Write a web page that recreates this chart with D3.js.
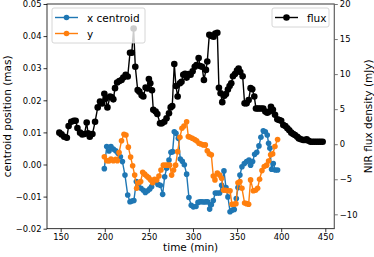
<!DOCTYPE html>
<html>
<head>
<meta charset="utf-8">
<script src="https://cdn.jsdelivr.net/npm/d3@7"></script>
<style>
  body { margin: 0; background: #fff; }
  text { font-family: "DejaVu Sans", sans-serif; fill: #000; }
</style>
</head>
<body>
<div id="chart"></div>
<script>
// flux (right axis) time and value
var fluxTime = [148.5,151,154,157,159,162,165,167,169,172,174.5,177,179.5,181,183,186,189,192,194.6,197,199.5,201,203,206,208,209.7,211.6,214,216.5,219,221,223.7,226,228.6,230.6,232.7,234.6,237.3,239.2,241.8,243.7,246.3,248.5,250,251.6,253.5,255,257.7,259.6,262.6,264.8,267.5,270,272.8,274.7,276.5,278.8,280.7,282.6,285.2,287,289,291,292.8,295,297.3,299.6,302,304,306.4,308,310.3,312.4,314.7,316.2,318.5,321,323.4,325.3,327.6,329.4,331.3,333.2,335.5,337.4,339.6,341.5,343.4,345.3,347.6,349.9,351.7,353.6,356.3,358.5,360.8,363.1,365.3,367.2,369.5,371.4,373.3,375.2,377.5,379.7,382,384.2,386.5,388.4,390.6,393,395.6,397.8,400,402.4,404.7,407,409.2,411.4,413.6,415.6,418.2,420,422.4,425,427,428.9,431,433.3,435.6,437.8,440.1,442.4,444.6,447];
var fluxVal = [1.65,1.4,1.07,0.93,2.6,3.2,3.35,3.35,2.3,1.65,1.4,1.45,3.1,1.55,1.07,1.45,3.2,5.25,6.1,5.8,7.2,6.5,5.25,6.8,6.7,6.4,8.0,8.8,9.0,9.15,9.5,9.9,9.65,13.05,13.05,16.5,11.06,7.73,7.5,7.0,6.8,8.1,7.95,9.3,8.7,7.7,4.9,4.65,4.3,2.98,2.98,3.2,3.7,4.4,5.25,5.45,11.44,8.3,6.8,8.7,8.9,9.9,10.05,9.5,10.0,9.9,10.4,11.06,11.3,12.3,11.15,11.06,9.15,10.6,11.8,15.6,15.45,15.34,15.8,15.9,8.06,7.26,6.0,6.9,7.15,7.8,8.3,8.68,9.7,10.0,10.5,10.8,10.3,9.7,5.83,5.83,6.3,8.0,7.85,6.8,5.1,5.1,5.1,5.1,5.1,4.65,4.5,4.65,5.35,4.9,4.2,3.55,3.45,3.35,2.74,2.6,2.26,2.0,1.65,1.45,1.3,1.07,0.83,0.7,0.6,0.6,0.7,0.5,0.36,0.36,0.36,0.36,0.36,0.36,0.36,0.36];

// x centroid
var xcTime = [199.5,202.2,204.8,207,209.7,212.4,215,217.7,220,222.9,226,228.6,230.8,233,235.8,238.4,241,243.7,246,248.6,251,253.1,255.8,258,260.3,263,265.6,267.9,270.1,272.8,275,276.9,278.8,280.7,283.4,285.6,287.9,290.2,292.8,295.4,298,300.4,303.4,305.7,308,310.2,312.5,314.7,316.6,318.9,320.8,323,325.3,327.6,330.2,332.5,335.1,337.4,339.6,342,344.6,346.8,349.1,351,353.2,355.5,358.2,360.8,363.5,365.3,367.6,369.9,372.3,374.8,377,379.7,382,384.2,385.7,387.2,389.1,391,393.3,395.9];
var xcVal = [-0.0013,0.0056,0.0042,0.0056,0.0048,0.0043,0.0035,0.0024,0.0009,-0.0033,-0.0095,-0.0116,-0.0114,-0.0112,-0.0053,-0.0059,-0.0074,-0.008,-0.0087,-0.0082,-0.0076,-0.0069,-0.0053,-0.0053,-0.0062,-0.0065,-0.0093,-0.0038,-0.0012,0.0014,0.0038,0.004,0.0102,0.0097,0.0082,0.0017,0.001,-0.0001,-0.003,-0.0103,-0.0127,-0.0132,-0.0131,-0.0118,-0.0116,-0.0116,-0.0117,-0.0116,-0.0116,-0.0139,-0.0125,-0.0112,-0.0089,-0.0089,-0.0089,-0.0065,-0.002,-0.0072,-0.0101,-0.0147,-0.0142,-0.014,-0.0106,-0.0072,-0.0033,-0.0007,0.0003,0.0009,0.0014,-0.0002,0.0009,0.0032,0.0038,0.0058,0.0085,0.0105,0.0102,0.0092,0.0066,0.0051,-0.0015,0.0003,-0.0017,-0.0017];

// y centroid
var ycTime = [199.5,202.2,204.8,207,209.7,212.4,214.2,216.2,219,221.8,224,226.7,229.3,231.6,233.9,236.1,238.4,240.7,243,245.2,247.5,249.7,252,254.3,256.5,258.9,261.4,263.7,266.4,269,271.3,273.5,275.8,278,280.3,282.6,285.2,287.5,289.8,292.8,294.7,296.6,299.2,301.9,304.1,306.8,309,311.7,314,316.2,318.5,320.8,323,324.9,327.6,330.2,332.5,334.7,337,339.3,342,344.2,346.4,348.7,351,353.2,355.5,358.5,360.8,363.1,365.3,368.4,371,373.3,375.5,378.2,380.8,383.5,385.7,388,390.3,392.9,395.9];
var ycVal = [0.0024,0.0012,0.0011,0.0017,0.0012,0.0016,0.0012,0.0037,0.0074,0.0094,0.0092,0.0054,0.0023,-0.0004,-0.0033,-0.0074,-0.0057,-0.0053,-0.0024,-0.003,-0.0036,-0.0041,-0.0048,-0.0057,-0.0046,-0.0048,-0.0036,-0.0017,-0.0002,-0.0002,-0.0002,-0.0002,-0.0033,-0.0017,-0.0002,0.004,0.0085,0.0113,0.012,0.0133,0.0087,0.0085,0.0082,0.0078,0.0074,0.0066,0.0064,0.0061,0.0061,0.0043,0.0033,0.003,-0.0036,-0.0048,-0.0027,-0.0033,-0.0043,-0.008,-0.008,-0.0082,-0.0082,-0.0124,-0.0124,-0.0122,-0.0057,-0.0053,-0.0074,-0.012,-0.0122,-0.0124,-0.0048,-0.0082,-0.008,-0.0074,-0.0046,-0.0019,-0.0006,-0.0002,0.0011,0.003,0.0033,0.0056,0.0078];

var xTicks = [150,200,250,300,350,400,450];
var leftTicks = [-0.02,-0.01,0,0.01,0.02,0.03,0.04,0.05];
var rightTicks = [-10,-5,0,5,10,15,20];

var width = 374, height = 257;
var margin = {left:47, top:4, right:39.7, bottom:28.3},
    g_width = width - margin.left - margin.right,
    g_height = height - margin.top - margin.bottom;

var blue = '#1f77b4', orange = '#ff7f0e';

var svg = d3.select('#chart')
    .append('svg')
    .attr('width', width)
    .attr('height', height)

var g = svg.append('g')
    .attr('transform', `translate(${margin.left},${margin.top})`)

// scales
var scale_x = d3.scaleLinear().domain([134.5, 460.2]).range([0, g_width])
var scale_yl = d3.scaleLinear().domain([-0.02, 0.05]).range([g_height, 0])
var scale_yr = d3.scaleLinear().domain([-12.05, 20]).range([g_height, 0])

var minus = s => s.replace('-', '\u2212')

// axes
var x_axis = d3.axisBottom(scale_x).tickValues(xTicks).tickSize(3.5).tickPadding(2)
var yl_axis = d3.axisLeft(scale_yl).tickValues(leftTicks).tickSize(3.5).tickPadding(2)
    .tickFormat(d => minus(d3.format('.2f')(d)))
var yr_axis = d3.axisRight(scale_yr).tickValues(rightTicks).tickSize(3.5).tickPadding(2)
    .tickFormat(d => minus(String(d)))

function styleAxis (sel, col) {
    sel.select('.domain').remove()
    sel.selectAll('line').attr('stroke', col).attr('stroke-width', 0.8)
    sel.selectAll('text').style('font-size', '8.4px').style('font-family', 'DejaVu Sans')
}
g.append('g').attr('transform', `translate(0,${g_height})`).call(x_axis).call(styleAxis, '#000')
g.append('g').call(yl_axis).call(styleAxis, '#000')
g.append('g').attr('transform', `translate(${g_width},0)`).call(yr_axis).call(styleAxis, '#555')

// frame
g.append('rect')
    .attr('width', g_width).attr('height', g_height)
    .attr('fill', 'none').attr('stroke', '#000').attr('stroke-width', 0.8)
g.append('line')
    .attr('x1', g_width).attr('x2', g_width).attr('y1', 0).attr('y2', g_height)
    .attr('stroke', '#777').attr('stroke-width', 1)

// series helper
function drawSeries (times, vals, sy, col, r) {
    var pts = times.map((t, i) => [scale_x(t), sy(vals[i])])
    var s = g.append('g')
    s.append('path')
        .attr('d', d3.line()(pts))
        .attr('fill', 'none').attr('stroke', col).attr('stroke-width', 1.4)
    s.selectAll('circle')
        .data(pts)
        .enter()
        .append('circle')
        .attr('cx', d => d[0])
        .attr('cy', d => d[1])
        .attr('r', r)
        .attr('fill', col)
}

drawSeries(xcTime, xcVal, scale_yl, blue, 2.8)
drawSeries(ycTime, ycVal, scale_yl, orange, 2.8)

// legend helper
function legend (x, y, w, h, items) {
    var lg = svg.append('g')
    lg.append('rect')
        .attr('x', x).attr('y', y).attr('width', w).attr('height', h)
        .attr('rx', 2).attr('fill', 'rgba(255,255,255,0.8)')
        .attr('stroke', '#ccc').attr('stroke-width', 0.8)
    items.forEach((it, i) => {
        var cy = y + 9.5 + i * 16
        lg.append('line')
            .attr('x1', x + 3).attr('x2', x + 26).attr('y1', cy).attr('y2', cy)
            .attr('stroke', it.col).attr('stroke-width', 1.4)
        lg.append('circle').attr('cx', x + 14.5).attr('cy', cy).attr('r', it.r).attr('fill', it.col)
        lg.append('text')
            .attr('x', x + 35).attr('y', cy)
            .attr('dominant-baseline', 'central')
            .style('font-size', '10.5px')
            .text(it.label)
    })
}

legend(52, 8, 93, 35, [{label:'x centroid', col:blue, r:2.8}, {label:'y', col:orange, r:2.8}])

drawSeries(fluxTime, fluxVal, scale_yr, '#000', 3.3)

legend(272, 8, 57, 19, [{label:'flux', col:'#000', r:3.3}])

// axis labels
svg.append('text')
    .attr('x', margin.left + g_width / 2).attr('y', 251)
    .attr('text-anchor', 'middle')
    .style('font-size', '10.5px')
    .text('time (min)')
svg.append('text')
    .attr('transform', `translate(7,${margin.top + g_height / 2}) rotate(-90)`)
    .attr('text-anchor', 'middle').attr('dominant-baseline', 'central')
    .style('font-size', '10.5px')
    .text('centroid position (mas)')
svg.append('text')
    .attr('transform', `translate(368,${margin.top + g_height / 2}) rotate(-90)`)
    .attr('text-anchor', 'middle').attr('dominant-baseline', 'central')
    .style('font-size', '10.5px')
    .text('NIR flux density (mJy)')
</script>
</body>
</html>
